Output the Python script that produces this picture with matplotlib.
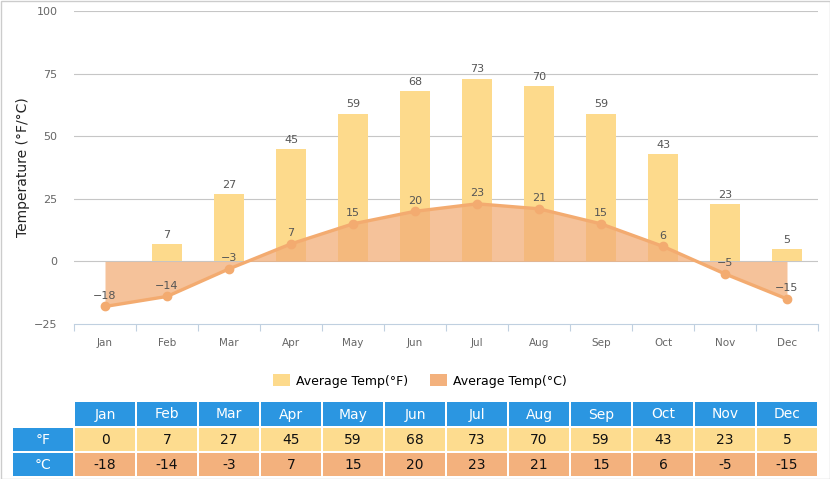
import matplotlib
matplotlib.use('Agg')
import matplotlib.pyplot as plt
from matplotlib.patches import Rectangle
import numpy as np

months = ['Jan', 'Feb', 'Mar', 'Apr', 'May', 'Jun',
          'Jul', 'Aug', 'Sep', 'Oct', 'Nov', 'Dec']
temp_f = [0, 7, 27, 45, 59, 68, 73, 70, 59, 43, 23, 5]
temp_c = [-18, -14, -3, 7, 15, 20, 23, 21, 15, 6, -5, -15]
y_ticks = [-25, 0, 25, 50, 75, 100]

BAR_COLOR = '#FDDA8C'
LINE_COLOR = '#F3AB70'
FILL_COLOR = '#F2AE78'
BLUE = '#2B96E1'
F_CELL = '#FDDC8F'
C_CELL = '#F3B17D'

W, H = 830, 479

fig = plt.figure(figsize=(W / 100, H / 100), dpi=100)
ax = fig.add_axes([74 / W, 155 / H, 744 / W, 313 / H])

x = np.arange(len(months))

# gridlines
for yv in y_ticks[1:]:
    ax.axhline(yv, color='#C6C6C6', lw=0.8, zorder=1)

bars = ax.bar(x, temp_f, width=0.48, color=BAR_COLOR, zorder=2,
              label='Average Temp(°F)')

ax.fill_between(x, temp_c, 0, color=FILL_COLOR, alpha=0.75, lw=0, zorder=3)
ax.plot(x, temp_c, '-o', color=LINE_COLOR, lw=2.4, ms=6, zorder=5)

for xi, v in zip(x, temp_f):
    if v == 0:
        continue
    ax.annotate(f'{v}', (xi, v), xytext=(0, 3), textcoords='offset points',
                ha='center', va='bottom', fontsize=8, color='#555555', zorder=6)
for xi, v in zip(x, temp_c):
    lab = f'{v}'.replace('-', '\u2212')
    ax.annotate(lab, (xi, v), xytext=(0, 4), textcoords='offset points',
                ha='center', va='bottom', fontsize=8, color='#555555', zorder=6)

ax.set_xlim(-0.5, 11.5)
ax.set_ylim(-25, 100)
ax.set_yticks(y_ticks)
ax.set_xticks(x)
ax.set_xticklabels(months)
ax.set_xticks(np.arange(-0.5, 12, 1), minor=True)
ax.tick_params(axis='x', which='major', length=0, pad=10, labelsize=7.5,
               labelcolor='#666666')
ax.tick_params(axis='x', which='minor', length=5, width=0.8, color='#C0D0E0')
ax.tick_params(axis='y', length=0, pad=12, labelsize=8, labelcolor='#666666')
for s in ['top', 'right', 'left']:
    ax.spines[s].set_visible(False)
ax.spines['bottom'].set_color('#C0D0E0')
ax.spines['bottom'].set_linewidth(0.8)
ax.set_ylabel('Temperature (°F/°C)', fontsize=10, color='#222222', labelpad=3)

legend_fill = Rectangle((0, 0), 1, 1, facecolor=C_CELL)
fig.legend([bars, legend_fill], ['Average Temp(°F)', 'Average Temp(°C)'],
           loc='center', bbox_to_anchor=(420 / W, 1 - 381 / H), ncol=2,
           frameon=False, fontsize=9, handlelength=1.3, handleheight=1.1,
           columnspacing=1.8, handletextpad=0.5)

# data table drawn in pixel coordinates
tab = fig.add_axes([0, 0, 1, 1], zorder=-1)
tab.set_xlim(0, W)
tab.set_ylim(H, 0)
tab.axis('off')


def cell(x0, y0, w, h, color, text, tcolor):
    tab.add_patch(Rectangle((x0, y0), w, h, facecolor=color, edgecolor='none'))
    tab.text(x0 + w / 2, y0 + h / 2 + 0.5, text, ha='center', va='center',
             fontsize=10, color=tcolor)


for i, m in enumerate(months):
    cx = 75 + i * 62
    cell(cx, 402, 60, 24, BLUE, m, 'white')
    cell(cx, 428, 60, 23, F_CELL, str(temp_f[i]), '#111111')
    cell(cx, 453, 60, 23, C_CELL, str(temp_c[i]), '#111111')
cell(13, 428, 60, 23, BLUE, '°F', 'white')
cell(13, 453, 60, 23, BLUE, '°C', 'white')

tab.add_patch(Rectangle((0.5, 0.5), W - 1, H - 1, facecolor='none',
                        edgecolor='#CCCCCC', lw=1))

fig.savefig('out.png', dpi=100, facecolor='white')
